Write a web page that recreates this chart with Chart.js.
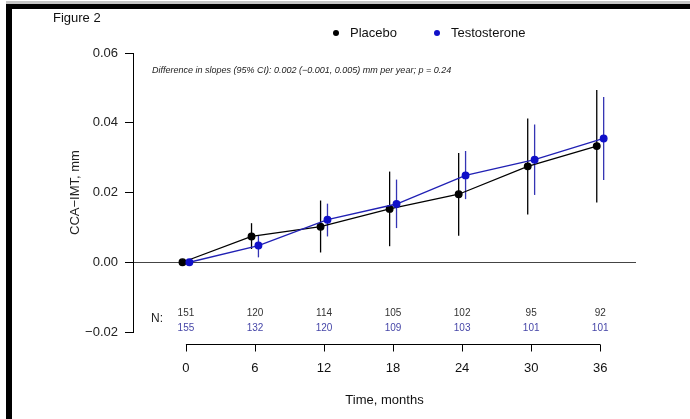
<!DOCTYPE html>
<html>
<head>
<meta charset="utf-8">
<script src="https://cdn.jsdelivr.net/npm/chart.js@4.4.1/dist/chart.umd.min.js"></script>
<style>
  html, body { margin: 0; padding: 0; background: #fff; }
  canvas { display: block; }
</style>
</head>
<body>
<canvas id="grafico" width="690" height="419"></canvas>
<script>
const d = document;

// ==================== datos ======================
const meses = [0, 6, 12, 18, 24, 30, 36];

const placebo     = [0, 0.0074, 0.0102, 0.0153, 0.0195, 0.0275, 0.0333];
const placeboLow  = [0, 0.0038, 0.0028, 0.0046, 0.0076, 0.0137, 0.0171];
const placeboHigh = [0, 0.0112, 0.0177, 0.0260, 0.0313, 0.0412, 0.0494];

const testo     = [0, 0.0048, 0.0122, 0.0167, 0.0249, 0.0294, 0.0355];
const testoLow  = [0, 0.0014, 0.0074, 0.0098, 0.0181, 0.0193, 0.0236];
const testoHigh = [0, 0.0077, 0.0168, 0.0237, 0.0319, 0.0395, 0.0474];

const nPlacebo = [151, 120, 114, 105, 102, 95, 92];
const nTesto   = [155, 132, 120, 109, 103, 101, 101];

const yTicks = [-0.02, 0, 0.02, 0.04, 0.06];

const nota = 'Difference in slopes (95% CI): 0.002 (\u22120.001, 0.005) mm per year; p = 0.24';

const FONT = '"Liberation Sans", Arial, sans-serif';
const AZUL = '#1010c8';
const AZUL_N = '#4646a8';

Chart.defaults.font.family = FONT;

// both groups are dodged a little so the bars don't overlap
const toPoints = (vals, shift) => vals.map((v, i) => ({ x: meses[i] + shift, y: v }));
const minus = s => String(s).replace('-', '\u2212');

const extras = {
    id: 'extras',
    beforeDatasetsDraw(chart) {
        const ctx = chart.ctx;
        const ys = chart.scales.y;
        chart.data.datasets.forEach((ds, k) => {
            const meta = chart.getDatasetMeta(k);
            ctx.save();
            ctx.strokeStyle = ds.barColor;
            ctx.lineWidth = 1.3;
            meta.data.forEach((pt, i) => {
                if (ds.errHigh[i] === ds.errLow[i]) return;
                ctx.beginPath();
                ctx.moveTo(pt.x, ys.getPixelForValue(ds.errLow[i]));
                ctx.lineTo(pt.x, ys.getPixelForValue(ds.errHigh[i]));
                ctx.stroke();
            });
            ctx.restore();
        });
    },
    afterDraw(chart) {
        const ctx = chart.ctx;
        const xs = chart.scales.x;
        const area = chart.chartArea;
        ctx.save();

        // eje x (only from 0 to 36, below the N rows)
        const ejeY = Math.round(area.bottom + 12) + 0.5;
        const xa = xs.getPixelForValue(meses[0]);
        const xb = xs.getPixelForValue(meses[meses.length - 1]);
        ctx.strokeStyle = '#000';
        ctx.lineWidth = 1;
        ctx.beginPath();
        ctx.moveTo(xa, ejeY);
        ctx.lineTo(xb, ejeY);
        meses.forEach(m => {
            const px = Math.round(xs.getPixelForValue(m)) + 0.5;
            ctx.moveTo(px, ejeY);
            ctx.lineTo(px, ejeY + 7);
        });
        ctx.stroke();

        ctx.fillStyle = '#111';
        ctx.textAlign = 'center';
        ctx.textBaseline = 'middle';
        ctx.font = '13px ' + FONT;
        meses.forEach(m => ctx.fillText(String(m), xs.getPixelForValue(m), ejeY + 24));
        ctx.fillText('Time, months', (area.left + area.right) / 2, ejeY + 56);

        // N por grupo
        ctx.font = '10px ' + FONT;
        meses.forEach((m, i) => {
            const px = xs.getPixelForValue(m);
            ctx.fillStyle = '#333';
            ctx.fillText(String(nPlacebo[i]), px, area.bottom - 19);
            ctx.fillStyle = AZUL_N;
            ctx.fillText(String(nTesto[i]), px, area.bottom - 4);
        });
        ctx.fillStyle = '#222';
        ctx.font = '12px ' + FONT;
        ctx.fillText('N:', 157, area.bottom - 13);

        // leyenda
        let lx = 336;
        ctx.textAlign = 'left';
        ctx.font = '13px ' + FONT;
        chart.data.datasets.forEach(ds => {
            ctx.fillStyle = ds.pointBackgroundColor;
            ctx.beginPath();
            ctx.arc(lx, 33, 3, 0, Math.PI * 2);
            ctx.fill();
            ctx.fillStyle = '#111';
            ctx.fillText(ds.label, lx + 14, 33);
            lx += 101;
        });

        // textos
        ctx.font = '13px ' + FONT;
        ctx.fillText('Figure 2', 53, 18);
        ctx.font = 'italic 9px ' + FONT;
        ctx.fillStyle = '#222';
        ctx.fillText(nota, 152, 70);

        // marco
        ctx.fillStyle = '#c4c4c4';
        ctx.fillRect(6, 1, 684, 3);
        ctx.fillStyle = '#000';
        ctx.fillRect(6, 4, 684, 5);
        ctx.fillRect(6, 4, 6, 415);

        ctx.restore();
    }
};

const chart = new Chart(d.getElementById('grafico'), {
    type: 'line',
    data: {
        datasets: [
            {
                label: 'Placebo',
                data: toPoints(placebo, -0.3),
                errLow: placeboLow,
                errHigh: placeboHigh,
                barColor: '#000',
                borderColor: '#000',
                backgroundColor: '#000',
                pointBackgroundColor: '#000',
                pointBorderColor: '#000',
                pointRadius: 3.3,
                borderWidth: 1.3,
                order: 2
            },
            {
                label: 'Testosterone',
                data: toPoints(testo, 0.3),
                errLow: testoLow,
                errHigh: testoHigh,
                barColor: '#3434b4',
                borderColor: '#2020b4',
                backgroundColor: AZUL,
                pointBackgroundColor: AZUL,
                pointBorderColor: AZUL,
                pointRadius: 3.3,
                borderWidth: 1.3,
                order: 1
            }
        ]
    },
    options: {
        responsive: false,
        animation: false,
        layout: { padding: { left: 68, right: 54, top: 53, bottom: 87 } },
        plugins: {
            legend: { display: false },
            tooltip: { enabled: false }
        },
        scales: {
            x: {
                type: 'linear',
                min: -4.6,
                max: 39.11,
                display: false
            },
            y: {
                min: -0.02,
                max: 0.06,
                afterBuildTicks: s => { s.ticks = yTicks.map(v => ({ value: v })); },
                afterFit: s => { s.width = 65; },
                border: { display: true, color: '#000', width: 1 },
                grid: {
                    drawOnChartArea: true,
                    color: c => (c.tick && c.tick.value === 0 ? '#444' : 'rgba(0,0,0,0)'),
                    tickColor: '#000',
                    tickLength: 8,
                    lineWidth: 1
                },
                ticks: {
                    color: '#222',
                    font: { size: 13 },
                    padding: 7,
                    callback: v => minus(v.toFixed(2))
                },
                title: {
                    display: true,
                    text: 'CCA\u2212IMT, mm',
                    color: '#222',
                    font: { size: 13 },
                    padding: 0
                }
            }
        }
    },
    plugins: [extras]
});
</script>
</body>
</html>
